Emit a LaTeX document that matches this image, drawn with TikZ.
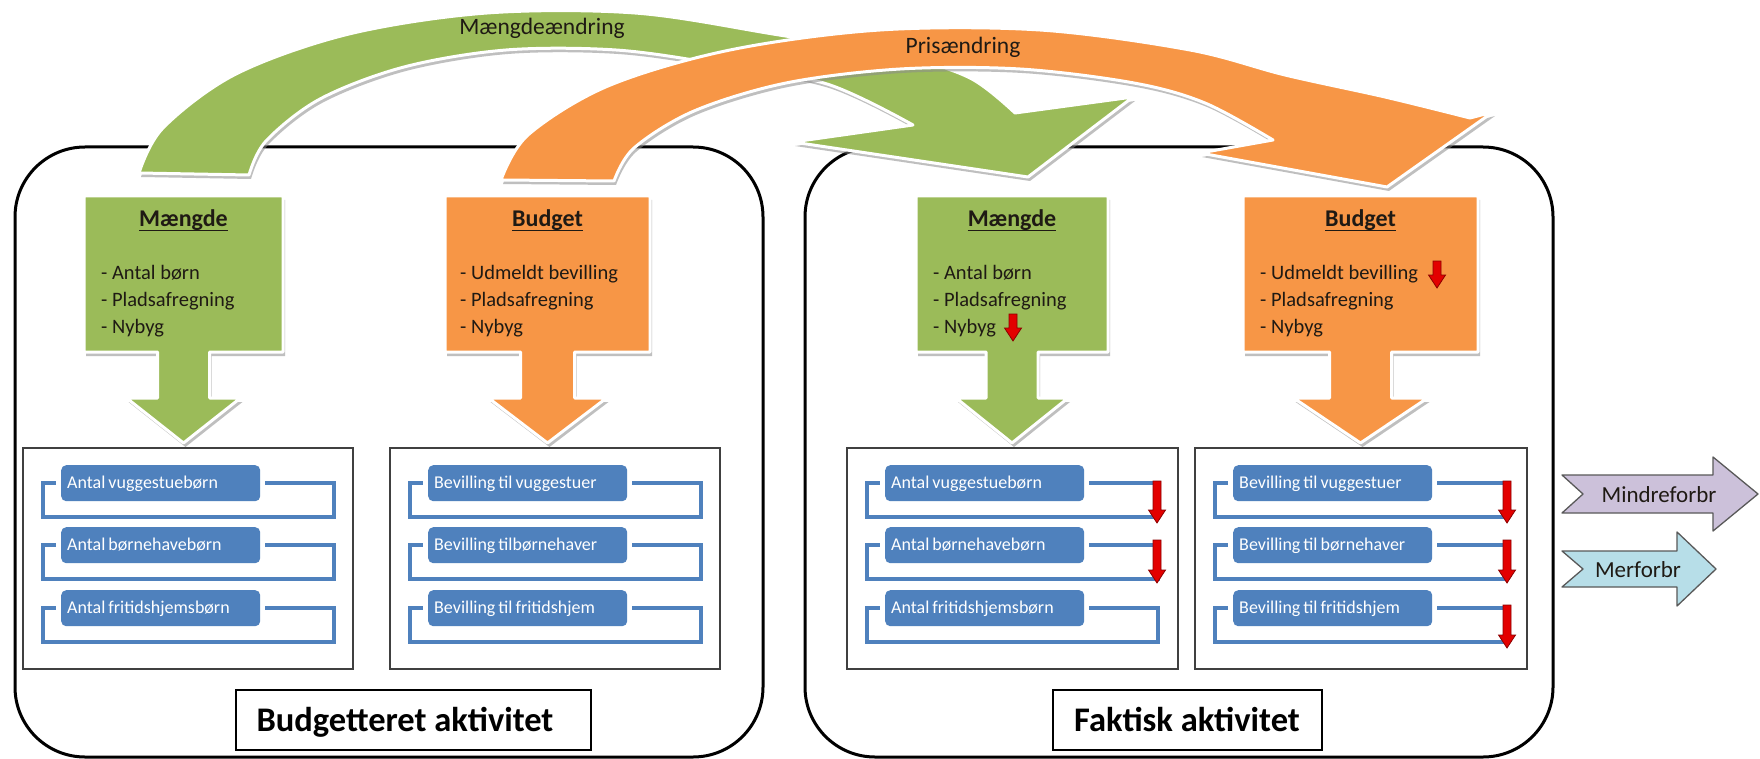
\documentclass[tikz,border=0pt]{standalone}
\usepackage{fontspec}
\setmainfont{Carlito}
\usetikzlibrary{shadows}
\definecolor{mgreen}{HTML}{9BBB59}
\definecolor{morange}{HTML}{F79646}
\definecolor{mblue}{HTML}{4F81BD}
\definecolor{mpurple}{HTML}{CCC1DA}
\definecolor{mcyan}{HTML}{B7DEE8}
\definecolor{mred}{HTML}{E30000}
\definecolor{mdred}{HTML}{8B0000}
\definecolor{mtxt}{HTML}{1F1A14}
\newcommand\tightsp{\spaceskip=3pt plus 1pt\relax}
\tikzset{
  panel/.style={draw=black, line width=3, rounded corners=70},
  lowbox/.style={draw=black!75, line width=1.5, fill=white},
  lblbox/.style={draw=black, line width=1.5, fill=white, minimum height=60, inner sep=0},
  brk/.style={draw=mblue, line width=4.5},
  bluebox/.style={fill=mblue, rounded corners=5, text=white,
    font=\fontsize{18}{20}\selectfont,
    anchor=north west, minimum width=199, minimum height=36, text width=187, align=left,
    inner xsep=6, inner ysep=0, text height=12.5, text depth=1},
  fancy/.style={draw=white, line width=3, line join=round,
    drop shadow={shadow xshift=2pt, shadow yshift=-4pt, fill=black!45, opacity=.55}},
  redarr/.style={fill=mred, draw=mdred, line width=0.8},
  notch/.style={draw=black!65, line width=1.3, line join=round},
  titletxt/.style={font=\bfseries\fontsize{24}{28}\selectfont, text=mtxt, anchor=base, inner sep=0},
  listtxt/.style={font=\fontsize{20.5}{27}\selectfont, text=mtxt, anchor=base west, inner sep=0},
  arctxt/.style={font=\fontsize{23.5}{28}\selectfont, text=mtxt, anchor=base, inner sep=0},
  bigtxt/.style={font=\bfseries\fontsize{34.5}{40}\selectfont, text=black, anchor=base, inner sep=0},
  sidetxt/.style={font=\fontsize{23}{28}\selectfont, text=mtxt, anchor=base, inner sep=0}
}
\newcommand\mkcallout[5]{% colour, left, right, stem half, head half
  \path[fancy, fill=#1] (#2,196) -- (#3,196) -- (#3,352)
    -- ({(#2+#3)/2+#4},352) -- ({(#2+#3)/2+#4},398) -- ({(#2+#3)/2+#5},398)
    -- ({(#2+#3)/2},443) -- ({(#2+#3)/2-#5},398) -- ({(#2+#3)/2-#4},398)
    -- ({(#2+#3)/2-#4},352) -- (#2,352) -- cycle;}
\newcommand\brow[4]{% box left, rect top, text, name
  \draw[brk] ({#1+20},{#2+18}) rectangle ({#1+311},{#2+52});
  \fill[white] ({#1+33},{#2-3}) rectangle ({#1+242},{#2+39});
  \node[bluebox] (#4) at ({#1+38},#2) {\tightsp #3};}
\newcommand\redarrow[3]{% x, y1, y2
  \path[redarr] ({#1-4},#2) -- ({#1+4},#2) -- ({#1+4},{#3-13}) -- ({#1+8.5},{#3-13})
    -- (#1,#3) -- ({#1-8.5},{#3-13}) -- ({#1-4},{#3-13}) -- cycle;}
\newcommand\uline[1]{\draw[line width=1.8, mtxt] ([yshift=-3.5pt]#1.base west) -- ([yshift=-3.5pt]#1.base east);}
\begin{document}
\begin{tikzpicture}[x=1pt,y=-1pt]
\useasboundingbox (0,0) rectangle (1760,759);
\fill[white] (0,0) rectangle (1760,759);

% panels
\draw[panel] (15,147) rectangle (763,757);
\draw[panel] (805,147) rectangle (1553,757);

% lower boxes
\draw[lowbox] (23,448) rectangle (353,669);
\draw[lowbox] (390,448) rectangle (720,669);
\draw[lowbox] (847,448) rectangle (1178,669);
\draw[lowbox] (1195,448) rectangle (1527,669);

\brow{23}{465}{Antal vuggestuebørn}{a1}
\brow{23}{527}{Antal børnehavebørn}{a2}
\brow{23}{590}{Antal fritidshjemsbørn}{a3}
\brow{390}{465}{Bevilling til vuggestuer}{b1}
\brow{390}{527}{Bevilling tilbørnehaver}{b2}
\brow{390}{590}{Bevilling til fritidshjem}{b3}
\brow{847}{465}{Antal vuggestuebørn}{c1}
\brow{847}{527}{Antal børnehavebørn}{c2}
\brow{847}{590}{Antal fritidshjemsbørn}{c3}
\brow{1195}{465}{Bevilling til vuggestuer}{d1}
\brow{1195}{527}{Bevilling til børnehaver}{d2}
\brow{1195}{590}{Bevilling til fritidshjem}{d3}

\redarrow{1157}{481}{523}
\redarrow{1157}{540}{583}
\redarrow{1507}{481}{523}
\redarrow{1507}{540}{583}
\redarrow{1507}{605}{648}

% callouts
\mkcallout{mgreen}{84}{283}{26}{57}
\mkcallout{morange}{445}{650}{27}{59}
\mkcallout{mgreen}{916}{1108}{26}{56}
\mkcallout{morange}{1243}{1478}{31}{67}

\node[titletxt] (t1) at (183.5,227) {Mængde};
\node[titletxt] (t2) at (547.5,227) {Budget};
\node[titletxt] (t3) at (1012,227) {Mængde};
\node[titletxt] (t4) at (1360.5,227) {Budget};
\uline{t1}\uline{t2}\uline{t3}\uline{t4}

\node[listtxt] (l11) at (101,279) {- Antal børn};
\node[listtxt] (l12) at (101,306) {- Pladsafregning};
\node[listtxt] (l13) at (101,333) {- Nybyg};
\node[listtxt] (l21) at (460,279) {- Udmeldt bevilling};
\node[listtxt] (l22) at (460,306) {- Pladsafregning};
\node[listtxt] (l23) at (460,333) {- Nybyg};
\node[listtxt] (l31) at (933,279) {- Antal børn};
\node[listtxt] (l32) at (933,306) {- Pladsafregning};
\node[listtxt] (l33) at (933,333) {- Nybyg};
\node[listtxt] (l41) at (1260,279) {- Udmeldt bevilling};
\node[listtxt] (l42) at (1260,306) {- Pladsafregning};
\node[listtxt] (l43) at (1260,333) {- Nybyg};

\redarrow{1013}{314}{341}
\redarrow{1437}{261}{288}

% bottom labels
\draw[lblbox] (236,690) rectangle (591,750);
\node[bigtxt] (bl) at (405,731) {Budgetteret aktivitet};
\draw[lblbox] (1053,690) rectangle (1322,750);
\node[bigtxt] (fl) at (1187,731) {Faktisk aktivitet};

% curved arrows
\path[fancy, fill=mgreen] (139,173)
  -- plot[smooth, tension=0.55] coordinates {(139,173) (163,128) (236,74) (349,34) (487,13) (635,13) (773,34) (900,56) (970,78) (1015,113)}
  -- (1133,97) -- (1028,177) -- (793,142) -- (913,125)
  -- plot[smooth, tension=0.55] coordinates {(913,125) (827,84) (718,64) (616,50) (506,50) (404,67) (320,99) (266,141) (249,175)}
  -- cycle;
\path[fancy, fill=morange] (501,180)
  -- plot[smooth, tension=0.55] coordinates {(501,180) (528,135) (608,86) (730,50) (880,30) (1040,30) (1190,50) (1285,75) (1385,97) (1470,118)}
  -- (1493,112) -- (1387,187) -- (1200,153) -- (1273,140)
  -- plot[smooth, tension=0.55] coordinates {(1273,140) (1205,103) (1134,83) (1020,69) (900,69) (786,83) (694,111) (634,148) (614,181)}
  -- cycle;
\node[arctxt] (ma) at (542,35) {Mængdeændring};
\node[arctxt] (pa) at (963,54) {Prisændring};

% side arrows
\path[notch, fill=mpurple] (1562,475) -- (1713,475) -- (1713,457) -- (1758,494) -- (1713,531) -- (1713,513) -- (1562,513) -- (1583,494) -- cycle;
\node[sidetxt] (mi) at (1659,502) {Mindreforbr};
\path[notch, fill=mcyan] (1562,551) -- (1677,551) -- (1677,532) -- (1716,569) -- (1677,606) -- (1677,587) -- (1562,587) -- (1583,569) -- cycle;
\node[sidetxt] (me) at (1638,577) {Merforbr};
\end{tikzpicture}
\end{document}
